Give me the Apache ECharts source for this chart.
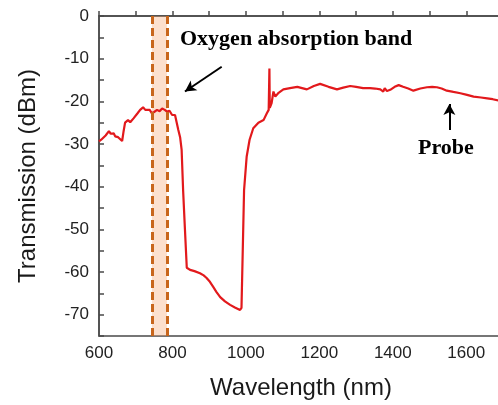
<!DOCTYPE html>
<html>
<head>
<meta charset="utf-8">
<script src="https://cdn.jsdelivr.net/npm/echarts@6/dist/echarts.min.js"></script>
<style>
html,body{margin:0;padding:0;background:#fff;}
#c{width:498px;height:405px;}
</style>
</head>
<body>
<div id="c"></div>
<script>
// Wavelength (nm)
const wavelength = [600,606,611,618,627,632,635,640,644,648,652,657,663,667,671,675,679,685,690,694,698,705,712,716,720,726,731,738,744,750,758,765,772,779,785,792,799,803,807,812,816,821,825,829,834,839,848,860,875,885,893,902,911,920,930,943,957,970,984,988,991,995,1002,1010,1020,1034,1048,1057,1062,1064,1065,1066,1070,1075,1080,1089,1102,1120,1140,1166,1185,1202,1225,1248,1265,1284,1300,1319,1338,1352,1366,1374,1378,1384,1393,1405,1416,1428,1442,1456,1475,1493,1507,1520,1533,1547,1565,1584,1602,1620,1640,1657,1672,1687,1700];
// Transmission (dBm)
const transmission = [-29.4,-29.0,-29.2,-28.0,-27.0,-27.6,-28.0,-27.5,-28.2,-28.0,-28.4,-28.6,-29.3,-27.0,-25.0,-24.6,-24.4,-24.9,-24.8,-24.0,-23.6,-22.8,-22.0,-21.6,-21.4,-22.0,-22.4,-22.0,-22.8,-22.5,-22.0,-22.3,-21.7,-22.0,-22.4,-22.2,-23.2,-22.8,-23.2,-23.5,-26.7,-28.5,-31.4,-40.8,-50.0,-59.0,-59.5,-59.8,-60.3,-60.8,-61.4,-62.3,-63.5,-64.7,-65.9,-66.9,-67.7,-68.3,-68.9,-68.4,-56.5,-40.8,-33.0,-29.0,-26.3,-25.0,-24.4,-22.8,-22.0,-12.3,-21.5,-21.2,-20.4,-17.7,-18.9,-18.0,-17.2,-16.9,-16.6,-17.2,-16.4,-15.9,-16.6,-17.2,-16.8,-16.4,-16.6,-16.9,-16.9,-17.0,-17.2,-17.7,-16.9,-17.6,-17.3,-16.6,-16.2,-16.6,-17.0,-17.5,-17.0,-16.7,-16.6,-16.7,-17.0,-17.5,-17.8,-18.1,-18.5,-18.9,-19.1,-19.3,-19.5,-19.8,-20.0];
// Oxygen absorption band edges (nm)
const bandStart = 744;
const bandEnd = 785;
// Annotation arrows [x, y] in data units
const oxygenArrow = [[934, -11.9], [834, -17.7]];
const probeArrow = [[1554, -26.7], [1554, -20.6]];
const xTicks = [600, 800, 1000, 1200, 1400, 1600];
const yTicks = [0, -10, -20, -30, -40, -50, -60, -70];

const chart = echarts.init(document.getElementById('c'));
const axisColor = '#4a4a4a';
const labelColor = '#222';
chart.setOption({
  animation: false,
  grid: { left: 99, top: 16, right: -5, bottom: 69, show: true, borderColor: axisColor, borderWidth: 1.5,
    outerBoundsMode: 'none', containLabel: false },
  xAxis: {
    type: 'value', min: 600, max: 1700, interval: 100,
    name: 'Wavelength (nm)', nameLocation: 'middle', nameGap: 40,
    nameTextStyle: { fontFamily: 'Liberation Sans', fontSize: 24, color: '#1a1a1a' },
    axisLine: { lineStyle: { color: axisColor, width: 1.5 } },
    axisTick: { inside: true, length: 5, lineStyle: { color: axisColor, width: 1.5 } },
    axisLabel: { fontFamily: 'Liberation Sans', fontSize: 17, color: labelColor, margin: 9,
      formatter: v => xTicks.includes(v) ? String(v) : '' },
    splitLine: { show: false }
  },
  yAxis: {
    type: 'value', min: -75, max: 0, interval: 5,
    name: 'Transmission (dBm)', nameLocation: 'middle', nameGap: 59,
    nameTextStyle: { fontFamily: 'Liberation Sans', fontSize: 24, color: '#1a1a1a' },
    axisLine: { lineStyle: { color: axisColor, width: 1.5 } },
    axisTick: { inside: true, length: 5, lineStyle: { color: axisColor, width: 1.5 } },
    axisLabel: { fontFamily: 'Liberation Sans', fontSize: 17, color: labelColor, margin: 10,
      formatter: v => yTicks.includes(v) ? String(v) : '' },
    splitLine: { show: false }
  },
  series: [
    {
      type: 'line', z: 2, showSymbol: false, symbol: 'none',
      data: wavelength.map((w, i) => [w, transmission[i]]),
      lineStyle: { color: '#e2191c', width: 2.2 }
    },
    {
      type: 'line', z: 3, data: [], symbol: 'none',
      markArea: {
        silent: true,
        itemStyle: { color: 'rgba(246,170,120,0.36)' },
        data: [[{ xAxis: bandStart }, { xAxis: bandEnd }]]
      },
      markLine: {
        silent: true, symbol: ['none', 'none'],
        label: { show: false },
        lineStyle: { color: '#c8661c', width: 3, type: [8, 4] },
        data: [{ xAxis: bandStart }, { xAxis: bandEnd }]
      }
    },
    {
      type: 'line', z: 4, data: [], symbol: 'none',
      markLine: {
        silent: true, symbol: ['none', 'arrow'], symbolSize: [9, 11],
        label: { show: false },
        lineStyle: { color: '#000', width: 2, type: 'solid' },
        data: [
          [{ coord: oxygenArrow[0] }, { coord: oxygenArrow[1] }],
          [{ coord: probeArrow[0] }, { coord: probeArrow[1] }]
        ]
      }
    }
  ],
  graphic: [
    { type: 'text', left: 180, top: 28, z: 10,
      style: { text: 'Oxygen absorption band', font: 'bold 22px "Liberation Serif"', fill: '#000' } },
    { type: 'text', left: 418, top: 137, z: 10,
      style: { text: 'Probe', font: 'bold 22px "Liberation Serif"', fill: '#000' } }
  ]
});
</script>
</body>
</html>
